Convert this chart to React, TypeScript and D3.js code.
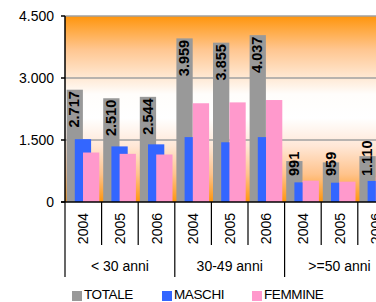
import { useEffect, useRef } from 'react';
import * as d3 from 'd3';

const years = ['2004', '2005', '2006', '2004', '2005', '2006', '2004', '2005', '2006'];
const groups = ['< 30 anni', '30-49 anni', '>=50 anni'];
const totale = [2717, 2510, 2544, 3959, 3855, 4037, 991, 959, 1110];
const maschi = [1520, 1345, 1395, 1570, 1445, 1570, 475, 467, 510];
const femmine = [1197, 1165, 1149, 2389, 2410, 2467, 516, 492, 600];
const seriesNames = ['TOTALE', 'MASCHI', 'FEMMINE'];
const seriesColors = ['#999999', '#3366FF', '#FF99CC'];
const yTicks = [0, 1500, 3000, 4500];

const W = 376;
const H = 302;
const FONT = 'Arial, "Liberation Sans", Helvetica, sans-serif';

export default function App() {
  const ref = useRef<SVGSVGElement>(null);

  useEffect(() => {
    if (!ref.current) return;
    const svg = d3.select(ref.current);
    svg.selectAll('*').remove();

    const left = 65;
    const top = 16;
    const bottom = 202;
    const catW = 36.6;

    const x = d3.scaleBand<number>()
      .domain(d3.range(years.length))
      .range([left, left + catW * years.length])
      .padding(0);
    const y = d3.scaleLinear().domain([0, 4500]).range([bottom, top]);
    const bw = x.bandwidth();
    const fmt = d3.formatLocale({ decimal: ',', thousands: '.', grouping: [3], currency: ['', ''] }).format(',');

    // background gradient
    const grad = svg.append('defs')
      .append('linearGradient')
      .attr('id', 'bg-grad')
      .attr('x1', '0').attr('y1', '0').attr('x2', '0').attr('y2', '1');
    [[0, '#FF950C'], [0.18, '#FFC690'], [0.42, '#FFFDFB'], [0.55, '#FFFFFF'], [0.7, '#FFE7D6'], [0.85, '#FFC38C'], [1, '#FF950C']]
      .forEach(([o, c]) => grad.append('stop').attr('offset', o as number).attr('stop-color', c as string));

    svg.append('rect')
      .attr('x', left).attr('y', top)
      .attr('width', x.range()[1] - left).attr('height', bottom - top)
      .attr('fill', 'url(#bg-grad)');

    // gridlines + y labels
    yTicks.forEach(t => {
      if (t > 0) {
        svg.append('line')
          .attr('x1', left).attr('x2', x.range()[1])
          .attr('y1', y(t)).attr('y2', y(t))
          .attr('stroke', '#A0A0A0').attr('stroke-width', 1.5);
      }
      svg.append('line')
        .attr('x1', left - 4).attr('x2', left)
        .attr('y1', y(t)).attr('y2', y(t))
        .attr('stroke', '#000').attr('stroke-width', 1.5);
      svg.append('text')
        .attr('x', left - 11).attr('y', y(t))
        .attr('dy', '0.36em')
        .attr('text-anchor', 'end')
        .style('font-family', FONT).style('font-size', '14px')
        .text(fmt(t));
    });

    // bars
    const series = [totale, maschi, femmine];
    const offsets = [0.044, 0.268, 0.492];
    const barW = bw * 0.445;
    series.forEach((vals, si) => {
      svg.append('g').selectAll('rect')
        .data(vals)
        .join('rect')
        .attr('x', (_, i) => (x(i) as number) + bw * offsets[si])
        .attr('y', d => y(d))
        .attr('width', barW)
        .attr('height', d => bottom - y(d))
        .attr('fill', seriesColors[si]);
    });

    // data labels on TOTALE
    const labelFloor = bottom - 26;
    totale.forEach((v, i) => {
      const cx = (x(i) as number) + bw * offsets[0] + barW / 2 - 0.5;
      const t = svg.append('text')
        .attr('text-anchor', 'start')
        .attr('dy', '0.36em')
        .style('font-family', FONT).style('font-size', '14.5px').style('font-weight', 'bold')
        .text(fmt(v));
      const len = (t.node() as SVGTextElement).getComputedTextLength();
      const yb = Math.min(y(v) + 1.5 + len, labelFloor);
      t.attr('transform', `translate(${cx},${yb}) rotate(-90)`);
    });

    // axes
    svg.append('line')
      .attr('x1', left - 4).attr('x2', x.range()[1])
      .attr('y1', bottom).attr('y2', bottom)
      .attr('stroke', '#000').attr('stroke-width', 1.5);
    svg.append('line')
      .attr('x1', left).attr('x2', left)
      .attr('y1', top).attr('y2', bottom)
      .attr('stroke', '#000').attr('stroke-width', 1.5);

    // category separators
    d3.range(years.length + 1).forEach(i => {
      const xx = left + i * bw;
      const isGroup = i % 3 === 0;
      svg.append('line')
        .attr('x1', xx).attr('x2', xx)
        .attr('y1', bottom).attr('y2', isGroup ? bottom + 75 : bottom + 43)
        .attr('stroke', '#000').attr('stroke-width', 1.2);
    });

    // year labels
    years.forEach((yr, i) => {
      const cx = (x(i) as number) + bw / 2;
      svg.append('text')
        .attr('transform', `translate(${cx},${bottom + 11}) rotate(-90)`)
        .attr('text-anchor', 'end')
        .attr('dy', '0.36em')
        .style('font-family', FONT).style('font-size', '14px')
        .text(yr);
    });

    // group labels
    groups.forEach((g, gi) => {
      const cx = left + (gi * 3 + 1.5) * bw;
      svg.append('text')
        .attr('x', cx).attr('y', bottom + 69)
        .attr('text-anchor', 'middle')
        .style('font-family', FONT).style('font-size', '14px')
        .text(g);
    });

    // legend
    const legendX = [72, 162, 252];
    seriesNames.forEach((name, si) => {
      svg.append('rect')
        .attr('x', legendX[si]).attr('y', 291)
        .attr('width', 10).attr('height', 10)
        .attr('fill', seriesColors[si]);
      svg.append('text')
        .attr('x', legendX[si] + 12).attr('y', 298.5)
        .style('font-family', FONT).style('font-size', '13.5px')
        .style('letter-spacing', '-0.4px')
        .text(name);
    });
  }, []);

  return (
    <div style={{ position: 'absolute', left: 0, top: 0, width: W, height: H, overflow: 'hidden', background: '#fff' }}>
      <svg ref={ref} width={W} height={H} style={{ display: 'block' }} />
    </div>
  );
}
